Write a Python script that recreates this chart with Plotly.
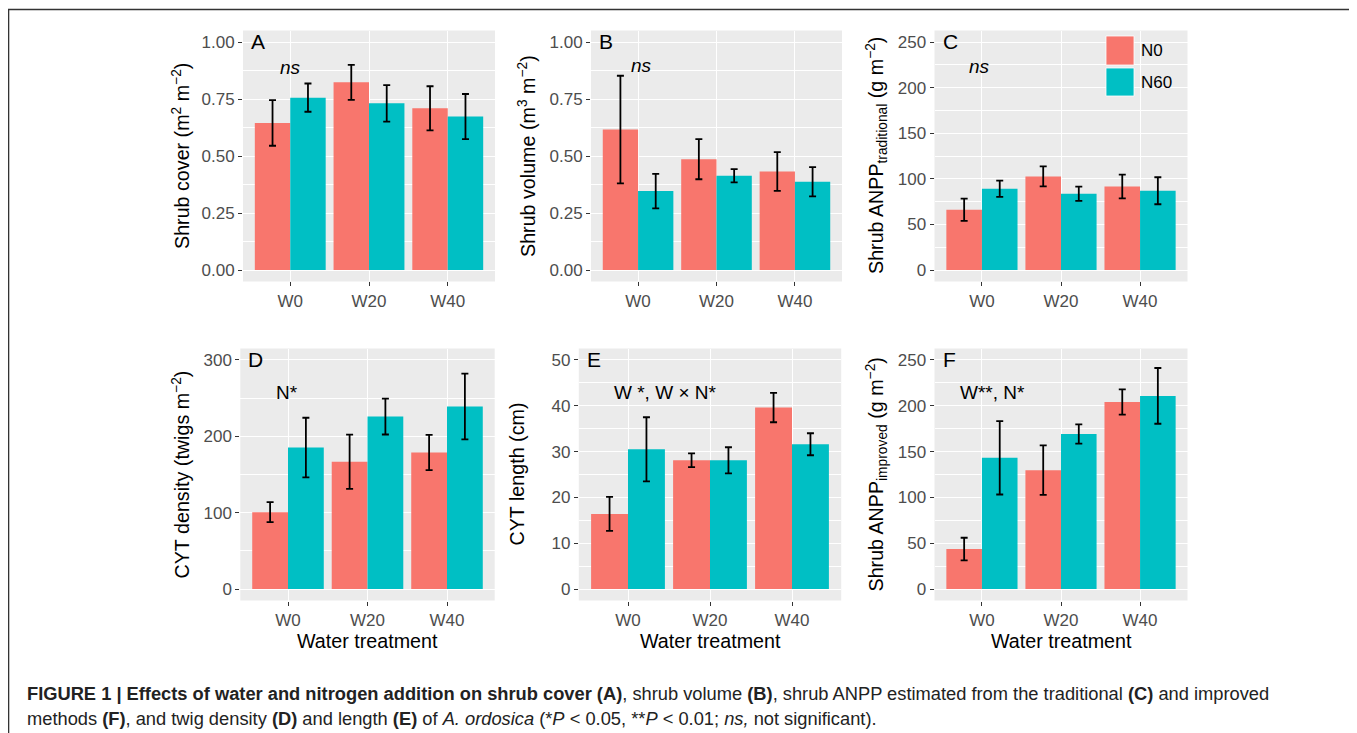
import plotly.graph_objects as go

# ---------------- data ----------------
categories = ["W0", "W20", "W40"]
groups = ["N0", "N60"]

cover_n0 = [0.645, 0.823, 0.709]
cover_n0_se = [0.100, 0.077, 0.097]
cover_n60 = [0.756, 0.731, 0.673]
cover_n60_se = [0.062, 0.080, 0.099]

volume_n0 = [0.616, 0.486, 0.432]
volume_n0_se = [0.236, 0.088, 0.085]
volume_n60 = [0.346, 0.413, 0.387]
volume_n60_se = [0.076, 0.029, 0.064]

anpp_trad_n0 = [66.1, 102.6, 91.6]
anpp_trad_n0_se = [12.2, 11.0, 13.0]
anpp_trad_n60 = [89.1, 83.6, 86.9]
anpp_trad_n60_se = [8.9, 7.9, 14.8]

density_n0 = [100.7, 166.6, 178.8]
density_n0_se = [13.0, 35.5, 23.0]
density_n60 = [185.3, 225.9, 239.0]
density_n60_se = [39.0, 23.5, 43.0]

length_n0 = [16.4, 28.1, 39.6]
length_n0_se = [3.7, 1.5, 3.2]
length_n60 = [30.5, 28.1, 31.6]
length_n60_se = [7.0, 2.85, 2.4]

anpp_imp_n0 = [43.6, 129.7, 204.2]
anpp_imp_n0_se = [12.4, 27.0, 13.8]
anpp_imp_n60 = [143.2, 169.3, 210.8]
anpp_imp_n60_se = [40.0, 10.5, 30.4]

colors = {"N0": "#F8766D", "N60": "#00BFC4"}

# the page body has an 8px margin: size the figure to fit the window
OFF = 8
W, H = 1357 - OFF, 733 - OFF


def px(x):
    return (x - OFF) / W


def py(y):
    return 1 - (y - OFF) / H


TOP = (30.6, 281.4)
BOT = (348.5, 600.5)

panels = [
    dict(letter="A", n0=cover_n0, n0se=cover_n0_se, n60=cover_n60, n60se=cover_n60_se,
         ymax=1.0, dtick=0.25, fmt=".2f", xd=(243, 495), yd=TOP,
         title="Shrub cover (m<sup>2</sup> m<sup>−2</sup>)", tx=181,
         note="<i>ns</i>", note_x=0.0, note_y=0.89, xtitle=False),
    dict(letter="B", n0=volume_n0, n0se=volume_n0_se, n60=volume_n60, n60se=volume_n60_se,
         ymax=1.0, dtick=0.25, fmt=".2f", xd=(591, 842), yd=TOP,
         title="Shrub volume (m<sup>3</sup> m<sup>−2</sup>)", tx=527,
         note="<i>ns</i>", note_x=0.05, note_y=0.895, xtitle=False),
    dict(letter="C", n0=anpp_trad_n0, n0se=anpp_trad_n0_se, n60=anpp_trad_n60, n60se=anpp_trad_n60_se,
         ymax=250, dtick=50, fmt="d", xd=(934.5, 1187.5), yd=TOP,
         title="Shrub ANPP<sub>traditional</sub> (g m<sup>−2</sup>)", tx=876,
         note="<i>ns</i>", note_x=-0.03, note_y=222.6, xtitle=False),
    dict(letter="D", n0=density_n0, n0se=density_n0_se, n60=density_n60, n60se=density_n60_se,
         ymax=300, dtick=100, fmt="d", xd=(240.3, 494.7), yd=BOT,
         title="CYT density (twigs m<sup>−2</sup>)", tx=180,
         note="N*", note_x=-0.01, note_y=256.8, xtitle=True),
    dict(letter="E", n0=length_n0, n0se=length_n0_se, n60=length_n60, n60se=length_n60_se,
         ymax=50, dtick=10, fmt="d", xd=(578.8, 841.2), yd=BOT,
         title="CYT length (cm)", tx=516,
         note="W *, W × N*", note_x=0.45, note_y=43.0, xtitle=True),
    dict(letter="F", n0=anpp_imp_n0, n0se=anpp_imp_n0_se, n60=anpp_imp_n60, n60se=anpp_imp_n60_se,
         ymax=250, dtick=50, fmt="d", xd=(934.5, 1187.5), yd=BOT,
         title="Shrub ANPP<sub>improved</sub> (g m<sup>−2</sup>)", tx=876,
         note="W**, N*", note_x=0.13, note_y=214.0, xtitle=True),
]

fig = go.Figure()
annotations = []
shapes = []
FONT = "Liberation Sans, Arial, Helvetica, sans-serif"
TITLE_SIZE = 19.7

for i, p in enumerate(panels):
    k = "" if i == 0 else str(i + 1)
    xa, ya = "x" + k, "y" + k
    for g, vals, se in (("N0", p["n0"], p["n0se"]), ("N60", p["n60"], p["n60se"])):
        fig.add_trace(go.Bar(
            x=categories, y=vals, name=g, xaxis=xa, yaxis=ya,
            marker=dict(color=colors[g], line=dict(width=0)),
            error_y=dict(type="data", array=se, visible=True, color="black",
                         thickness=1.8, width=3.5),
            showlegend=False, offsetgroup=g,
        ))
    pad = p["ymax"] * 0.05
    fig.layout["xaxis" + k] = dict(
        domain=[px(p["xd"][0]), px(p["xd"][1])], anchor=ya,
        type="category", range=[-0.6, 2.6],
        showgrid=True, gridcolor="white", gridwidth=1.1,
        ticks="outside", ticklen=4, tickcolor="#333333", tickwidth=1.1,
        tickfont=dict(family=FONT, size=17, color="#4D4D4D"),
        showline=False, zeroline=False, fixedrange=True,
    )
    fig.layout["yaxis" + k] = dict(
        domain=[py(p["yd"][1]), py(p["yd"][0])], anchor=xa,
        range=[-pad, p["ymax"] + pad], dtick=p["dtick"], tick0=0,
        tickformat=p["fmt"],
        showgrid=True, gridcolor="white", gridwidth=1.1,
        minor=dict(dtick=p["dtick"] / 2, tick0=0, showgrid=True,
                   gridcolor="white", gridwidth=0.55, ticks=""),
        ticks="outside", ticklen=4, tickcolor="#333333", tickwidth=1.1,
        tickfont=dict(family=FONT, size=17, color="#4D4D4D"),
        showline=False, zeroline=False, fixedrange=True,
    )
    # panel background
    shapes.append(dict(type="rect", xref="paper", yref="paper", layer="below",
                       x0=px(p["xd"][0]), x1=px(p["xd"][1]),
                       y0=py(p["yd"][1]), y1=py(p["yd"][0]),
                       fillcolor="#EBEBEB", line=dict(width=0)))
    # panel letter
    annotations.append(dict(text=p["letter"], xref="paper", yref=ya,
                            x=px(p["xd"][0] + 6), y=p["ymax"], xanchor="left",
                            yanchor="middle", showarrow=False,
                            font=dict(family=FONT, size=21, color="black")))
    # significance note
    annotations.append(dict(text=p["note"], xref=xa, yref=ya,
                            x=p["note_x"], y=p["note_y"], xanchor="center",
                            yanchor="middle", showarrow=False,
                            font=dict(family=FONT, size=19, color="black")))
    # y-axis title
    annotations.append(dict(text=p["title"], xref="paper", yref="paper",
                            x=px(p["tx"]), y=py((p["yd"][0] + p["yd"][1]) / 2),
                            xanchor="center", yanchor="middle", textangle=-90,
                            showarrow=False,
                            font=dict(family=FONT, size=TITLE_SIZE, color="black")))
    if p["xtitle"]:
        annotations.append(dict(text="Water treatment", xref="paper", yref="paper",
                                x=px((p["xd"][0] + p["xd"][1]) / 2), y=py(641),
                                xanchor="center", yanchor="middle", showarrow=False,
                                font=dict(family=FONT, size=TITLE_SIZE, color="black")))

# manual legend inside panel C
leg_items = [("N0", 36, 65), ("N60", 68, 96)]
for g, y0, y1 in leg_items:
    shapes.append(dict(type="rect", xref="paper", yref="paper",
                       x0=px(1106), x1=px(1134), y0=py(y1), y1=py(y0),
                       fillcolor=colors[g], line=dict(color="white", width=0.8)))
    annotations.append(dict(text=g, xref="paper", yref="paper", x=px(1139),
                            y=py((y0 + y1) / 2), xanchor="left", yanchor="middle",
                            showarrow=False,
                            font=dict(family=FONT, size=17, color="black")))

# outer frame
shapes.append(dict(type="rect", xref="paper", yref="paper",
                   x0=px(8.5), x1=px(1354), y0=-0.1, y1=py(9.5),
                   line=dict(color="#333333", width=1.6), fillcolor="rgba(0,0,0,0)"))

# caption
cap1 = ("<b>FIGURE 1 | Effects of water and nitrogen addition on shrub cover (A)</b>, "
        "shrub volume <b>(B)</b>, shrub ANPP estimated from the traditional <b>(C)</b> and improved")
cap2 = ("methods <b>(F)</b>, and twig density <b>(D)</b> and length <b>(E)</b> of "
        "<i>A. ordosica</i> (*<i>P</i> &lt; 0.05, **<i>P</i> &lt; 0.01; <i>ns,</i> not significant).")
for txt, yy in ((cap1, 693), (cap2, 718)):
    annotations.append(dict(text=txt, xref="paper", yref="paper", x=px(25), y=py(yy),
                            xanchor="left", yanchor="middle", showarrow=False,
                            font=dict(family=FONT, size=18.3, color="#222222")))

fig.update_layout(
    width=W, height=H, margin=dict(l=0, r=0, t=0, b=0),
    paper_bgcolor="white", plot_bgcolor="rgba(0,0,0,0)",
    barmode="group", bargap=0.1, bargroupgap=0,
    shapes=shapes, annotations=annotations, showlegend=False,
    font=dict(family=FONT),
)

fig.write_html("out.html")
